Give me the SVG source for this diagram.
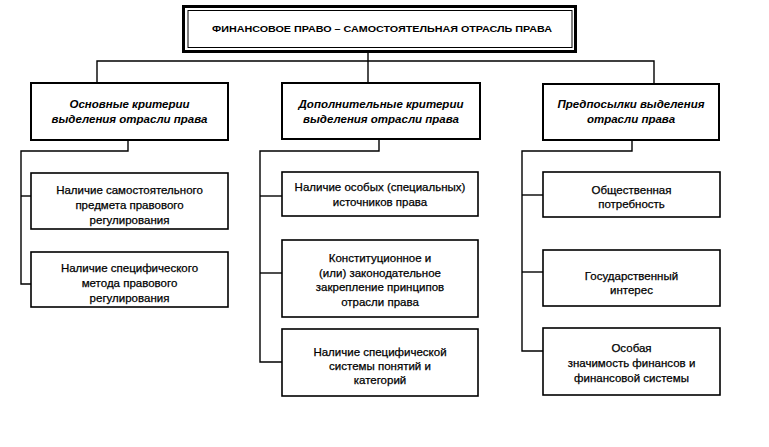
<svg xmlns="http://www.w3.org/2000/svg" width="769" height="447" viewBox="0 0 769 447">
<style>
.box{fill:#fff;stroke:#000;stroke-width:1.6}
.hbox{fill:#fff;stroke:#000;stroke-width:2}
.ln{fill:none;stroke:#000;stroke-width:1.4}
text{font-family:"Liberation Sans",Arial,sans-serif;fill:#000;text-anchor:middle}
.t{font-size:11.5px;stroke:#000;stroke-width:0.25}
.h{font-size:11.5px;font-weight:bold;font-style:italic}
.title{font-size:9px;font-weight:bold}
</style>
<rect width="769" height="447" fill="#fff"/>
<g id="connectors" class="ln">
<polyline points="368,53 368,83"/>
<polyline points="97,83 97,61 654,61 654,84"/>
<polyline points="128,140 128,151 21,151 21,284 31,284"/>
<line x1="21" y1="196" x2="31" y2="196"/>
<polyline points="379,140 379,151 260,151 260,362 282,362"/>
<line x1="260" y1="196" x2="282" y2="196"/>
<line x1="260" y1="273" x2="282" y2="273"/>
<polyline points="632,140 632,151 522,151 522,351 543,351"/>
<line x1="522" y1="195" x2="543" y2="195"/>
<line x1="522" y1="272" x2="543" y2="272"/>
</g>
<g id="root">
<rect x="183.5" y="6.5" width="392" height="45" fill="#fff" stroke="#000" stroke-width="3"/>
<rect x="188" y="10.5" width="384" height="37" fill="none" stroke="#000" stroke-width="1"/>
<text class="title" x="382" y="32" textLength="340" lengthAdjust="spacingAndGlyphs">ФИНАНСОВОЕ ПРАВО – САМОСТОЯТЕЛЬНАЯ ОТРАСЛЬ ПРАВА</text>
</g>
<g id="basic">
<rect class="hbox" x="31" y="83" width="197" height="57"/>
<text class="h" x="129.5" y="108">Основные критерии</text>
<text class="h" x="129.5" y="123">выделения отрасли права</text>
</g>
<g id="additional">
<rect class="hbox" x="282" y="83" width="198" height="56"/>
<text class="h" x="381" y="108">Дополнительные критерии</text>
<text class="h" x="381" y="123">выделения отрасли права</text>
</g>
<g id="prereq">
<rect class="hbox" x="543" y="84" width="176" height="56"/>
<text class="h" x="631" y="108">Предпосылки выделения</text>
<text class="h" x="631" y="123">отрасли права</text>
</g>
<g id="l1">
<rect class="box" x="31" y="173" width="197" height="56"/>
<text class="t" x="129.5" y="194">Наличие самостоятельного</text>
<text class="t" x="129.5" y="209">предмета правового</text>
<text class="t" x="129.5" y="224">регулирования</text>
</g>
<g id="l2">
<rect class="box" x="31" y="252" width="197" height="55"/>
<text class="t" x="129.5" y="272">Наличие специфического</text>
<text class="t" x="129.5" y="287">метода правового</text>
<text class="t" x="129.5" y="302">регулирования</text>
</g>
<g id="m1">
<rect class="box" x="282" y="172" width="196" height="44"/>
<text class="t" x="380" y="191">Наличие особых (специальных)</text>
<text class="t" x="380" y="206">источников права</text>
</g>
<g id="m2">
<rect class="box" x="282" y="240" width="196" height="77"/>
<text class="t" x="380" y="262">Конституционное и</text>
<text class="t" x="380" y="277">(или) законодательное</text>
<text class="t" x="380" y="291">закрепление принципов</text>
<text class="t" x="380" y="306">отрасли права</text>
</g>
<g id="m3">
<rect class="box" x="282" y="329" width="196" height="67"/>
<text class="t" x="380" y="356">Наличие специфической</text>
<text class="t" x="380" y="370">системы понятий и</text>
<text class="t" x="380" y="384">категорий</text>
</g>
<g id="r1">
<rect class="box" x="543" y="172" width="177" height="45"/>
<text class="t" x="631.5" y="194">Общественная</text>
<text class="t" x="631.5" y="208">потребность</text>
</g>
<g id="r2">
<rect class="box" x="543" y="250" width="177" height="56"/>
<text class="t" x="631.5" y="280">Государственный</text>
<text class="t" x="631.5" y="294">интерес</text>
</g>
<g id="r3">
<rect class="box" x="543" y="328" width="177" height="67"/>
<text class="t" x="631.5" y="352">Особая</text>
<text class="t" x="631.5" y="367">значимость финансов и</text>
<text class="t" x="631.5" y="382">финансовой системы</text>
</g>
</svg>
